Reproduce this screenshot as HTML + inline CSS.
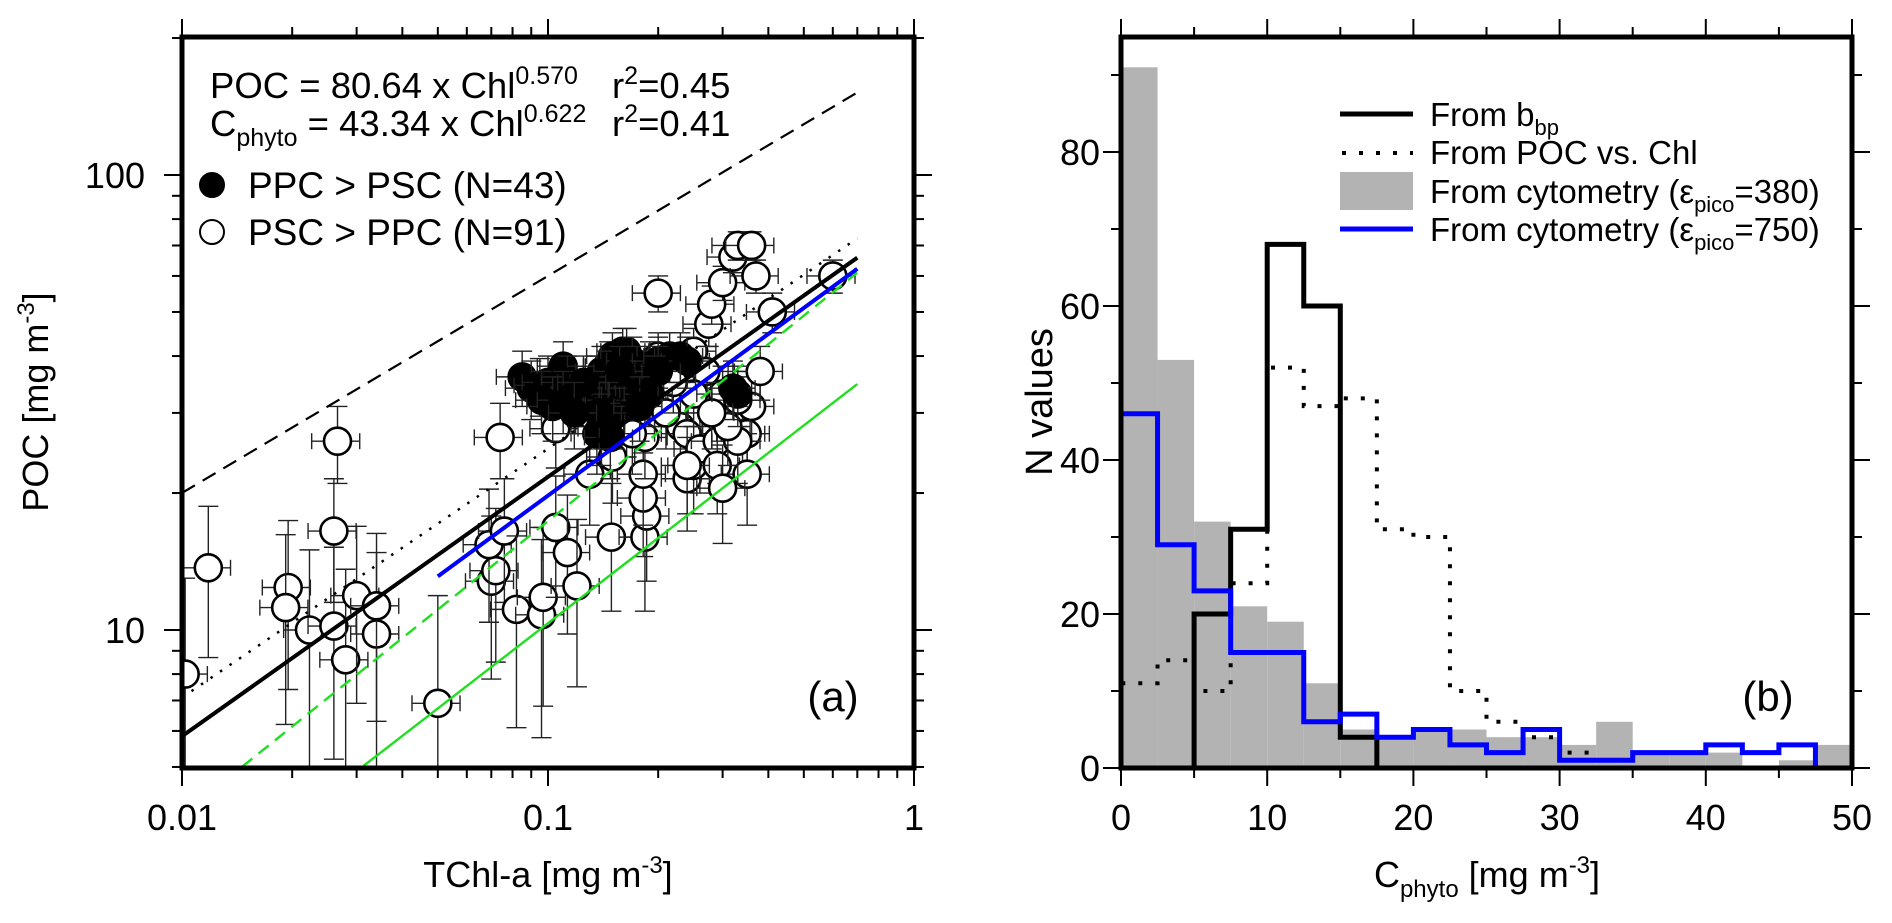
<!DOCTYPE html>
<html><head><meta charset="utf-8">
<style>
html,body{margin:0;padding:0;background:#fff;}
svg{display:block;font-family:"Liberation Sans",Arial,sans-serif;}
</style></head>
<body>
<svg id="fig" width="1892" height="923" viewBox="0 0 1892 923" xmlns="http://www.w3.org/2000/svg">
<defs>
<clipPath id="clipA"><rect x="182" y="37" width="732" height="731"/></clipPath>
<clipPath id="clipB"><rect x="1121" y="37" width="731" height="731"/></clipPath>
</defs>
<g id="panelA"></g>
<g id="panelB"></g>
</svg>
<script>
// ---------- Panel (a) data ----------
const openChl = [0.0102,0.0118,0.0195,0.0192,0.0223,0.026,0.026,0.0266,0.028,0.030,0.034,0.034,0.05,0.07,0.072,0.069,0.076,0.074,0.082,0.096,0.097,0.105,0.113,0.12,0.105,0.13,0.149,0.164,0.184,0.186,0.182,0.182,0.184,0.2,0.2,0.23,0.24,0.24,0.25,0.25,0.26,0.275,0.29,0.29,0.28,0.3,0.32,0.33,0.34,0.35,0.36,0.36,0.37,0.41,0.38,0.35,0.27,0.25,0.3,0.33,0.6,0.33,0.24,0.21,0.3,0.31,0.15,0.17,0.28,0.22];
const openPoc = [8.0,13.7,12.4,11.2,10,10.2,16.5,26,8.6,11.9,9.8,11.3,6.9,12.8,13.5,15.4,16.5,26.5,11.1,10.8,11.8,16.8,14.8,12.5,27.7,22,16,29,16,17.8,19.5,22,26.5,55,40,28,27,21.5,23,41,25,47,26,23,52,58,66,70,27,27,31,70,60,50,37,22,37,33,33,32,60,26,23,30,20.5,28,24,27,30,35];
const filledChl = [0.085,0.09,0.095,0.1,0.11,0.113,0.12,0.128,0.135,0.14,0.147,0.15,0.16,0.164,0.17,0.175,0.155,0.147,0.14,0.136,0.152,0.162,0.173,0.18,0.19,0.2,0.215,0.23,0.24,0.096,0.103,0.11,0.19,0.2,0.157,0.146,0.148,0.33,0.32,0.138,0.178,0.125,0.118];
const filledPoc = [36,34,34.5,35,38,35,33,32,35,37,38,40,41,41,39,37,34,31,28,27,30,32,34,34,38,39,40,40,39,32,31,32,33,37,37,30,26.5,33,34,30,31,35,30];
const xErrRel = 0.15;   // relative TChl-a uncertainty
const yErrAbs = 5;      // absolute POC uncertainty (mg m-3)
// fit lines: [a, b, xStart, xEnd]
const fitPOC = [80.64, 0.570, 0.01, 0.7];
const fitDotted = [88.2, 0.547, 0.01, 0.7];
const fitDashed = [180, 0.477, 0.01, 0.7];
const fitBlue = [76.8, 0.59, 0.05, 0.7];
const fitGreenDash = [76.8, 0.646, 0.0146, 0.7];
const fitGreen = [43.34, 0.622, 0.0313, 0.7];
const xTicksA = [0.01, 0.1, 1];
const xTickLabelsA = ["0.01", "0.1", "1"];
const yTicksA = [10, 100];
const yTickLabelsA = ["10", "100"];

// ---------- Panel (b) data ----------
const binEdges = [0,2.5,5,7.5,10,12.5,15,17.5,20,22.5,25,27.5,30,32.5,35,37.5,40,42.5,45,47.5,50];
const cytoGray = [91,53,32,21,19,11,5,4,5,5,4,4,3,6,2,2,2,0,1,3];
const cytoBlue = [46,29,23,15,15,6,7,4,5,3,2,5,1,1,2,2,3,2,3,0];
const bbpBlack = [0,0,20,31,68,60,4,0,0,0,0,0,0,0,0,0,0,0,0,0];
const pocChlDotted = [11,14,10,24,52,47,48,31,30,10,6,4,2,1,0,0,0,0,0,0];
const xTicksB = [0,10,20,30,40,50];
const yTicksB = [0,20,40,60,80];

const NS = "http://www.w3.org/2000/svg";
function mk(parent, tag, attrs){
  const e = document.createElementNS(NS, tag);
  for (const k in attrs) e.setAttribute(k, attrs[k]);
  parent.appendChild(e);
  return e;
}
const L = Math.log10;
const ax = v => 182 + (L(v) + 2) * 366;
const ay = v => 630 - (L(v) - 1) * 455;
const bx = v => 1121 + v * 14.62;
const by = v => 768 - v * 7.7;

const A = document.getElementById('panelA');
const B = document.getElementById('panelB');

// ======== Panel A ========
const minorX = [];
for (const d of [0.01, 0.1]) for (let k = 2; k <= 9; k++) minorX.push(d * k);
const minorY = [5,6,7,8,9,20,30,40,50,60,70,80,90,200];
const ticksA = mk(A, 'g', {stroke:'#000','stroke-width':2});


for (const v of minorX){
  const x = ax(v);
  mk(ticksA,'line',{x1:x,y1:768,x2:x,y2:778});
  mk(ticksA,'line',{x1:x,y1:37,x2:x,y2:27});
}
for (const v of xTicksA){
  const x = ax(v);
  mk(ticksA,'line',{x1:x,y1:768,x2:x,y2:786});
  mk(ticksA,'line',{x1:x,y1:37,x2:x,y2:19});
}
for (const v of minorY){
  const y = ay(v);
  mk(ticksA,'line',{x1:182,y1:y,x2:172,y2:y});
  mk(ticksA,'line',{x1:914,y1:y,x2:924,y2:y});
}
for (const v of yTicksA){
  const y = ay(v);
  mk(ticksA,'line',{x1:182,y1:y,x2:164,y2:y});
  mk(ticksA,'line',{x1:914,y1:y,x2:932,y2:y});
}
xTicksA.forEach((v,i)=>{
  const t = mk(A,'text',{x:ax(v),y:830,'font-size':36,'text-anchor':'middle'});
  t.textContent = xTickLabelsA[i];
  
  
});
yTicksA.forEach((v,i)=>{
  const t = mk(A,'text',{x:145,y:ay(v)+13,'font-size':36,'text-anchor':'end'});
  t.textContent = yTickLabelsA[i];
  
  
});

const plotA = mk(A,'g',{'clip-path':'url(#clipA)'});



function drawPoint(x, y, filled){
  const g = mk(plotA,'g',{});
  
  
  const cx = ax(x), cy = ay(y);
  const x1 = ax(x*(1-xErrRel)), x2 = ax(x*(1+xErrRel));
  const yl = y - yErrAbs > 0.5 ? ay(y - yErrAbs) : 800;
  const yh = ay(y + yErrAbs);
  const eb = mk(g,'g',{stroke:'#222','stroke-width':1.4,fill:'none'});
  mk(eb,'line',{x1:x1,y1:cy,x2:x2,y2:cy});
  mk(eb,'line',{x1:x1,y1:cy-8,x2:x1,y2:cy+8});
  mk(eb,'line',{x1:x2,y1:cy-8,x2:x2,y2:cy+8});
  mk(eb,'line',{x1:cx,y1:yl,x2:cx,y2:yh});
  mk(eb,'line',{x1:cx-10,y1:yl,x2:cx+10,y2:yl});
  mk(eb,'line',{x1:cx-10,y1:yh,x2:cx+10,y2:yh});
  mk(g,'circle',{cx:cx,cy:cy,r:13.5,fill:filled?'#000':'#fff',stroke:'#000','stroke-width':2.6});
}
openChl.forEach((x,i)=>drawPoint(x, openPoc[i], false));
filledChl.forEach((x,i)=>drawPoint(x, filledPoc[i], true));

function fitLine(f, name, style){
  const [a,b,x0,x1] = f;
  const p = mk(plotA,'line',Object.assign({x1:ax(x0),y1:ay(a*Math.pow(x0,b)),x2:ax(x1),y2:ay(a*Math.pow(x1,b)),fill:'none'},style));
  
  
}
fitLine(fitDashed,'dashed-upper-line',{stroke:'#000','stroke-width':2.2,'stroke-dasharray':'15 9'});
fitLine(fitDotted,'dotted-fit-line',{stroke:'#000','stroke-width':2.5,'stroke-dasharray':'2.5 9'});
fitLine(fitGreenDash,'green-dashed-line',{stroke:'#1fe01f','stroke-width':2.4,'stroke-dasharray':'13 8'});
fitLine(fitGreen,'green-cphyto-fit-line',{stroke:'#1fe01f','stroke-width':2.4});
fitLine(fitPOC,'poc-fit-line',{stroke:'#000','stroke-width':4});
fitLine(fitBlue,'blue-fit-line',{stroke:'#0000ff','stroke-width':4});

const frameA = mk(A,'rect',{x:182,y:37,width:732,height:731,fill:'none',stroke:'#000','stroke-width':5});



const eq1 = mk(A,'text',{x:210,y:98,'font-size':36.5});
eq1.innerHTML = 'POC = 80.64 x Chl<tspan dy="-14" font-size="25">0.570</tspan>';


const r1 = mk(A,'text',{x:612,y:98,'font-size':36.5});
r1.innerHTML = 'r<tspan dy="-14" font-size="25">2</tspan><tspan dy="14">=0.45</tspan>';


const eq2 = mk(A,'text',{x:210,y:136,'font-size':36.5});
eq2.innerHTML = 'C<tspan dy="10" font-size="25">phyto</tspan><tspan dy="-10"> = 43.34 x Chl</tspan><tspan dy="-14" font-size="25">0.622</tspan>';


const r2 = mk(A,'text',{x:612,y:136,'font-size':36.5});
r2.innerHTML = 'r<tspan dy="-14" font-size="25">2</tspan><tspan dy="14">=0.41</tspan>';



const lg1 = mk(A,'g',{});


mk(lg1,'circle',{cx:212,cy:185,r:12,fill:'#000',stroke:'#000','stroke-width':2});
const lt1 = mk(lg1,'text',{x:248,y:198,'font-size':37}); lt1.textContent = 'PPC > PSC (N=43)';
const lg2 = mk(A,'g',{});


mk(lg2,'circle',{cx:212,cy:232,r:12,fill:'#fff',stroke:'#000','stroke-width':2});
const lt2 = mk(lg2,'text',{x:248,y:245,'font-size':37}); lt2.textContent = 'PSC > PPC (N=91)';

const pa = mk(A,'text',{x:833,y:711,'font-size':42,'text-anchor':'middle'}); pa.textContent='(a)';



const xtA = mk(A,'text',{x:548,y:887,'font-size':36,'text-anchor':'middle'});
xtA.innerHTML = 'TChl-a [mg m<tspan dy="-14" font-size="24">-3</tspan><tspan dy="14">]</tspan>';


const ytA = mk(A,'text',{x:0,y:0,'font-size':36,'text-anchor':'middle',transform:'translate(48,402) rotate(-90)'});
ytA.innerHTML = 'POC [mg m<tspan dy="-14" font-size="24">-3</tspan><tspan dy="14">]</tspan>';



// ======== Panel B ========
const plotB = mk(B,'g',{'clip-path':'url(#clipB)'});


cytoGray.forEach((v,i)=>{
  if (v <= 0) return;
  const r = mk(plotB,'rect',{x:bx(binEdges[i]),y:by(v),width:bx(binEdges[i+1])-bx(binEdges[i]),height:by(0)-by(v),fill:'#b3b3b3'});
  
  
});
function stepPath(vals, upto){
  let d = 'M' + bx(binEdges[0]) + ',' + by(0);
  for (let i = 0; i < upto; i++){
    d += ' L' + bx(binEdges[i]) + ',' + by(vals[i]) + ' L' + bx(binEdges[i+1]) + ',' + by(vals[i]);
  }
  d += ' L' + bx(binEdges[upto]) + ',' + by(0);
  return d;
}
const pBlack = mk(plotB,'path',{d:stepPath(bbpBlack,20),fill:'none',stroke:'#000','stroke-width':5,'stroke-linejoin':'miter'});


const pDot = mk(plotB,'path',{d:stepPath(pocChlDotted,20),fill:'none',stroke:'#000','stroke-width':4,'stroke-dasharray':'4 13'});


const pBlue = mk(plotB,'path',{d:stepPath(cytoBlue,19),fill:'none',stroke:'#0000ff','stroke-width':5});



const ticksB = mk(B,'g',{stroke:'#000','stroke-width':2});


for (let v = 0; v <= 50; v += 5){
  const x = bx(v), len = (v % 10 === 0) ? 18 : 10;
  mk(ticksB,'line',{x1:x,y1:768,x2:x,y2:768+len});
  mk(ticksB,'line',{x1:x,y1:37,x2:x,y2:37-len});
}
for (let v = 0; v <= 90; v += 10){
  const y = by(v), len = (v % 20 === 0) ? 18 : 10;
  mk(ticksB,'line',{x1:1121,y1:y,x2:1121-len,y2:y});
  mk(ticksB,'line',{x1:1852,y1:y,x2:1852+len,y2:y});
}
xTicksB.forEach(v=>{
  const t = mk(B,'text',{x:bx(v),y:830,'font-size':36,'text-anchor':'middle'}); t.textContent = String(v);
  
  
});
yTicksB.forEach(v=>{
  const t = mk(B,'text',{x:1100,y:by(v)+13,'font-size':36,'text-anchor':'end'}); t.textContent = String(v);
  
  
});
const frameB = mk(B,'rect',{x:1121,y:37,width:731,height:731,fill:'none',stroke:'#000','stroke-width':5});



const legB = mk(B,'g',{});


const l1 = mk(legB,'g',{}); 


mk(l1,'line',{x1:1340,y1:114,x2:1413,y2:114,stroke:'#000','stroke-width':5});
const t1 = mk(l1,'text',{x:1430,y:126,'font-size':33}); t1.innerHTML='From b<tspan dy="9" font-size="22">bp</tspan>';
const l2 = mk(legB,'g',{});


mk(l2,'line',{x1:1342,y1:153,x2:1413,y2:153,stroke:'#000','stroke-width':4,'stroke-dasharray':'4 13'});
const t2 = mk(l2,'text',{x:1430,y:164,'font-size':33}); t2.textContent='From POC vs. Chl';
const l3 = mk(legB,'g',{});


mk(l3,'rect',{x:1340,y:172,width:73,height:38,fill:'#b3b3b3'});
const t3 = mk(l3,'text',{x:1430,y:203,'font-size':33}); t3.innerHTML='From cytometry (ε<tspan dy="9" font-size="22">pico</tspan><tspan dy="-9">=380)</tspan>';
const l4 = mk(legB,'g',{});


mk(l4,'line',{x1:1340,y1:229,x2:1413,y2:229,stroke:'#0000ff','stroke-width':5});
const t4 = mk(l4,'text',{x:1430,y:241,'font-size':33}); t4.innerHTML='From cytometry (ε<tspan dy="9" font-size="22">pico</tspan><tspan dy="-9">=750)</tspan>';

const pb = mk(B,'text',{x:1768,y:711,'font-size':42,'text-anchor':'middle'}); pb.textContent='(b)';


const xtB = mk(B,'text',{x:1487,y:887,'font-size':36,'text-anchor':'middle'});
xtB.innerHTML = 'C<tspan dy="10" font-size="24">phyto</tspan><tspan dy="-10"> [mg m</tspan><tspan dy="-14" font-size="24">-3</tspan><tspan dy="14">]</tspan>';


const ytB = mk(B,'text',{x:0,y:0,'font-size':38,'text-anchor':'middle',transform:'translate(1052,402) rotate(-90)'});
ytB.textContent = 'N values';


</script>
</body></html>
